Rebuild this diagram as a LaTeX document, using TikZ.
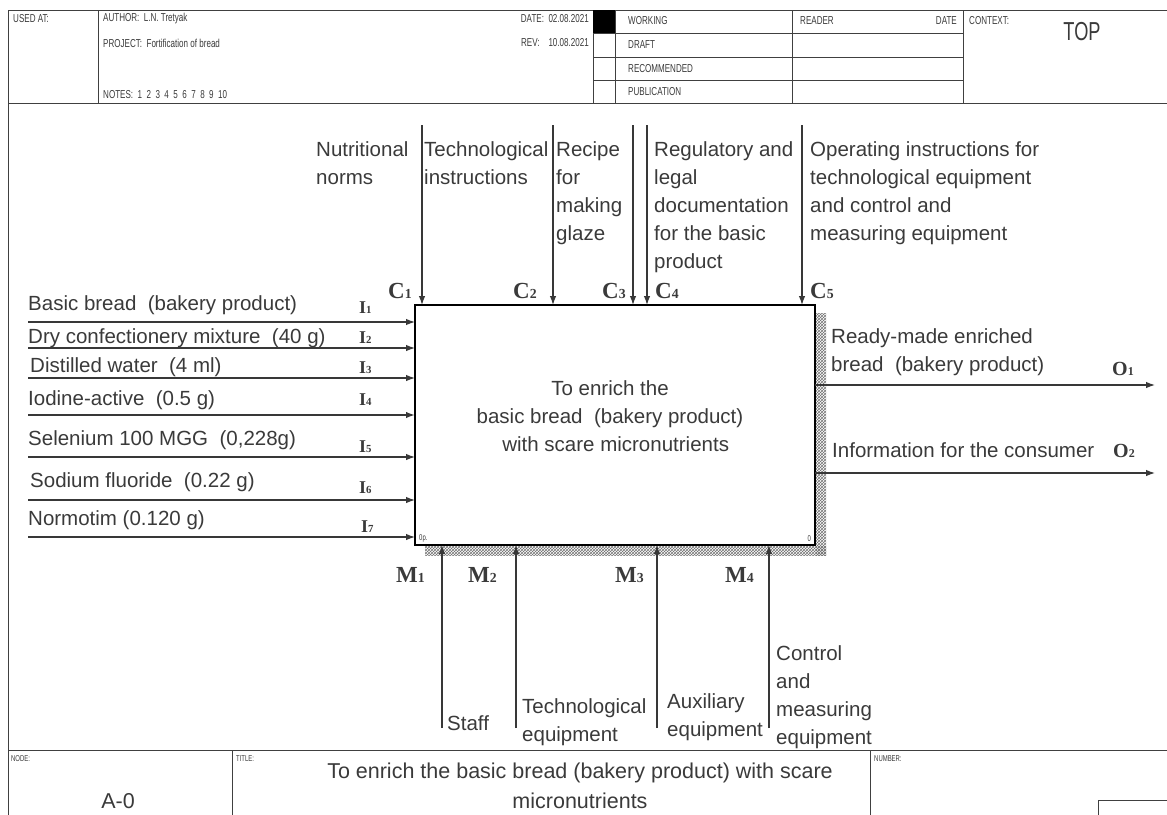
\documentclass[tikz,border=0pt]{standalone}
\usepackage{fontspec}
\setmainfont{Liberation Sans}
\newfontfamily\narrowsf[FakeStretch=0.7]{Liberation Sans}
\newfontfamily\tagrm{Liberation Serif}
\usepackage{xcolor}
\usetikzlibrary{arrows.meta,positioning,patterns}
\definecolor{inkgray}{HTML}{3A3A3A}
\newcommand{\icomtag}[3]{\fontsize{#3}{#3}\selectfont #1{\fontsize{0.6\dimexpr#3pt\relax}{1}\selectfont #2}}
\tikzset{
  funcbox/.style={draw=black, line width=2.2pt, minimum width=400pt,
                  minimum height=240pt, inner sep=0pt, outer sep=0pt},
  flow/.style={-{Latex[length=9pt,width=6.5pt]}, line width=1.2pt, draw=black!78},
  arrowtxt/.style={font=\fontsize{20.5}{28}\selectfont, text=inkgray,
                   inner sep=0pt, align=left},
  icom/.style={font=\tagrm\bfseries, text=inkgray, inner sep=0pt},
  ruling/.style={draw=black!75, line width=0.9pt},
  shadow/.style={pattern=crosshatch, pattern color=black!55}
}

\begin{document}
\begin{tikzpicture}[x=1pt, y=-1pt,
      hdrtxt/.style={font=\narrowsf\fontsize{11.5}{13}\selectfont, text=inkgray,
                     inner sep=0pt},
      tinytxt/.style={font=\narrowsf\fontsize{8.5}{9}\selectfont, text=inkgray,
                      inner sep=0pt},
      titletxt/.style={font=\fontsize{21.5}{30}\selectfont, text=inkgray,
                       inner sep=0pt, align=center}
    ]
    \def\xIn{28} \def\xTagI{359} \def\yCtop{125} \def\yMbot{728} \def\xOut{1155}
    \useasboundingbox (0,0) rectangle (1167,814);
    \clip (0,0) rectangle (1167,814);

    % Frame and header
    \draw[ruling] (8,10) rectangle (1180,830);
    \draw[ruling] (8,103) -- (1180,103);
    \draw[ruling] (98,10) -- (98,103);
    \draw[ruling] (593,10) -- (593,103);
    \draw[ruling] (615,10) -- (615,103);
    \draw[ruling] (792,10) -- (792,103);
    \draw[ruling] (963,10) -- (963,103);
    \draw[ruling] (593,33) -- (963,33);
    \draw[ruling] (593,57) -- (963,57);
    \draw[ruling] (593,80) -- (963,80);
    \fill[black] (593,10) rectangle (615,33);

    \node[hdrtxt, anchor=west] (usedat) at (13,19) {USED AT:};
    \node[hdrtxt, anchor=west] (author) at (103,19) {AUTHOR:\ \ L.N. Tretyak};
    \node[hdrtxt, anchor=west] (project) at (103,43) {PROJECT:\ \ Fortification of bread};
    \node[hdrtxt, anchor=west] (notes) at (103,95) {NOTES:\ \ 1\ \ 2\ \ 3\ \ 4\ \ 5\ \ 6\ \ 7\ \ 8\ \ 9\ \ 10};
    \node[hdrtxt, anchor=east] (date) at (589,19) {DATE:\ \ 02.08.2021};
    \node[hdrtxt, anchor=east] (rev) at (589,43) {REV:\ \ \ \ 10.08.2021};
    \node[hdrtxt, anchor=west] (working) at (628,21) {WORKING};
    \node[hdrtxt, anchor=west] (draft) at (628,45) {DRAFT};
    \node[hdrtxt, anchor=west] (recomm) at (628,69) {RECOMMENDED};
    \node[hdrtxt, anchor=west] (public) at (628,92) {PUBLICATION};
    \node[hdrtxt, anchor=west] (reader) at (800,21) {READER};
    \node[hdrtxt, anchor=east] (rdate) at (957,21) {DATE};
    \node[hdrtxt, anchor=west] (context) at (969,21) {CONTEXT:};
    \node[font=\narrowsf\fontsize{26}{26}\selectfont, text=inkgray, inner sep=0pt]
      (top) at (1082,32) {TOP};

    % Footer
    \draw[ruling] (8,750) -- (1180,750);
    \draw[ruling] (232,750) -- (232,830);
    \draw[ruling] (870,750) -- (870,830);
    \draw[ruling] (1098,800) rectangle (1180,830);
    \node[tinytxt, anchor=north west] (nodehd) at (11,755) {NODE:};
    \node[tinytxt, anchor=north west] (titlehd) at (236,755) {TITLE:};
    \node[tinytxt, anchor=north west] (numhd) at (874,755) {NUMBER:};
    \node[titletxt, anchor=base] (nodeid) at (118,808) {A-0};
    \node[titletxt, anchor=north] (title) at (580,763)
      {To enrich the basic bread (bakery product) with scare\\micronutrients};

    % Function box with its shadow
    \path[shadow] (816,313) rectangle (826,555);
    \path[shadow] (425,546) rectangle (826,555);
    \node[funcbox] (A0) at (615,425) {};
    \node[arrowtxt, align=center, anchor=north] (A0txt) at (610,380)
      {To enrich the\\basic bread\ \ (bakery product)\\\ \ with scare micronutrients};
    \node[tinytxt, anchor=south west] (A0no) at (419,542) {0p.};
    \node[tinytxt, anchor=south east] (A0cost) at (811,542) {0};

    % Inputs
    \coordinate (i1) at (\xIn,322);
    \coordinate (i2) at (\xIn,348);
    \coordinate (i3) at (\xIn,378);
    \coordinate (i4) at (\xIn,415);
    \coordinate (i5) at (\xIn,457);
    \coordinate (i6) at (\xIn,500);
    \coordinate (i7) at (\xIn,537);
    \draw[flow] (i1) -- (i1 -| A0.west);
    \draw[flow] (i2) -- (i2 -| A0.west);
    \draw[flow] (i3) -- (i3 -| A0.west);
    \draw[flow, line width=1.7pt] (i4) -- (i4 -| A0.west);
    \draw[flow] (i5) -- (i5 -| A0.west);
    \draw[flow] (i6) -- (i6 -| A0.west);
    \draw[flow] (i7) -- (i7 -| A0.west);
    \node[arrowtxt, anchor=base west] (i1txt) at (\xIn,310) {Basic bread\ \ (bakery product)};
    \node[arrowtxt, anchor=base west] (i2txt) at (\xIn,343) {Dry confectionery mixture\ \ (40 g)};
    \node[arrowtxt, anchor=base west] (i3txt) at (\xIn+2,372) {Distilled water\ \ (4 ml)};
    \node[arrowtxt, anchor=base west] (i4txt) at (\xIn,405) {Iodine-active\ \ (0.5 g)};
    \node[arrowtxt, anchor=base west] (i5txt) at (\xIn,445) {Selenium 100 MGG\ \ (0,228g)};
    \node[arrowtxt, anchor=base west] (i6txt) at (\xIn+2,487) {Sodium fluoride\ \ (0.22 g)};
    \node[arrowtxt, anchor=base west] (i7txt) at (\xIn,525) {Normotim\ (0.120 g)};
    \node[icom, anchor=base west] (i1tag) at (\xTagI,313) {\icomtag{I}{1}{18}};
    \node[icom, anchor=base west] (i2tag) at (\xTagI,343) {\icomtag{I}{2}{18}};
    \node[icom, anchor=base west] (i3tag) at (\xTagI,373) {\icomtag{I}{3}{18}};
    \node[icom, anchor=base west] (i4tag) at (\xTagI,405) {\icomtag{I}{4}{18}};
    \node[icom, anchor=base west] (i5tag) at (\xTagI,452) {\icomtag{I}{5}{18}};
    \node[icom, anchor=base west] (i6tag) at (\xTagI,493) {\icomtag{I}{6}{18}};
    \node[icom, anchor=base west] (i7tag) at (\xTagI+2,532) {\icomtag{I}{7}{18}};

    % Controls
    \coordinate (c1) at (422,\yCtop);
    \coordinate (c2) at (553,\yCtop);
    \coordinate (c3) at (633,\yCtop);
    \coordinate (c4) at (647,\yCtop);
    \coordinate (c5) at (802,\yCtop);
    \draw[flow] (c1) -- (c1 |- A0.north);
    \draw[flow] (c2) -- (c2 |- A0.north);
    \draw[flow] (c3) -- (c3 |- A0.north);
    \draw[flow] (c4) -- (c4 |- A0.north);
    \draw[flow] (c5) -- (c5 |- A0.north);
    \node[arrowtxt, anchor=north west] (c1txt) at (316,141) {Nutritional\\norms};
    \node[arrowtxt, anchor=north west] (c2txt) at (424,141) {Technological\\instructions};
    \node[arrowtxt, anchor=north west] (c3txt) at (556,141) {Recipe\\for\\making\\glaze};
    \node[arrowtxt, anchor=north west] (c4txt) at (654,141)
      {Regulatory and\\legal\\documentation\\for the basic\\product};
    \node[arrowtxt, anchor=north west] (c5txt) at (810,141)
      {Operating instructions for\\technological equipment\\and control and\\measuring equipment};
    \node[icom, anchor=base west] (c1tag) at (388,298) {\icomtag{C}{1}{23}};
    \node[icom, anchor=base west] (c2tag) at (513,298) {\icomtag{C}{2}{23}};
    \node[icom, anchor=base west] (c3tag) at (602,298) {\icomtag{C}{3}{23}};
    \node[icom, anchor=base west] (c4tag) at (655,298) {\icomtag{C}{4}{23}};
    \node[icom, anchor=base west] (c5tag) at (810,298) {\icomtag{C}{5}{23}};

    % Outputs
    \coordinate (o1) at (\xOut,385);
    \coordinate (o2) at (\xOut,473);
    \draw[flow] (o1 -| A0.east) -- (o1);
    \draw[flow] (o2 -| A0.east) -- (o2);
    \node[arrowtxt, anchor=north west] (o1txt) at (831,328)
      {Ready-made enriched\\bread\ \ (bakery product)};
    \node[arrowtxt, anchor=base west] (o2txt) at (832,457) {Information for the consumer};
    \node[icom, anchor=base west] (o1tag) at (1112,375) {\icomtag{O}{1}{20}};
    \node[icom, anchor=base west] (o2tag) at (1113,457) {\icomtag{O}{2}{20}};

    % Mechanisms
    \coordinate (m1) at (442,\yMbot);
    \coordinate (m2) at (516,\yMbot);
    \coordinate (m3) at (657,\yMbot);
    \coordinate (m4) at (769,\yMbot);
    \draw[flow] (m1) -- (m1 |- A0.south);
    \draw[flow] (m2) -- (m2 |- A0.south);
    \draw[flow] (m3) -- (m3 |- A0.south);
    \draw[flow] (m4) -- (m4 |- A0.south);
    \node[arrowtxt, anchor=base west] (m1txt) at (447,730) {Staff};
    \node[arrowtxt, anchor=north west] (m2txt) at (522,698) {Technological\\equipment};
    \node[arrowtxt, anchor=north west] (m3txt) at (667,693) {Auxiliary\\equipment};
    \node[arrowtxt, anchor=north west] (m4txt) at (776,645)
      {Control\\and\\measuring\\equipment};
    \node[icom, anchor=base west] (m1tag) at (396,582) {\icomtag{M}{1}{23}};
    \node[icom, anchor=base west] (m2tag) at (468,582) {\icomtag{M}{2}{23}};
    \node[icom, anchor=base west] (m3tag) at (615,582) {\icomtag{M}{3}{23}};
    \node[icom, anchor=base west] (m4tag) at (725,582) {\icomtag{M}{4}{23}};
  \end{tikzpicture}
\end{document}
